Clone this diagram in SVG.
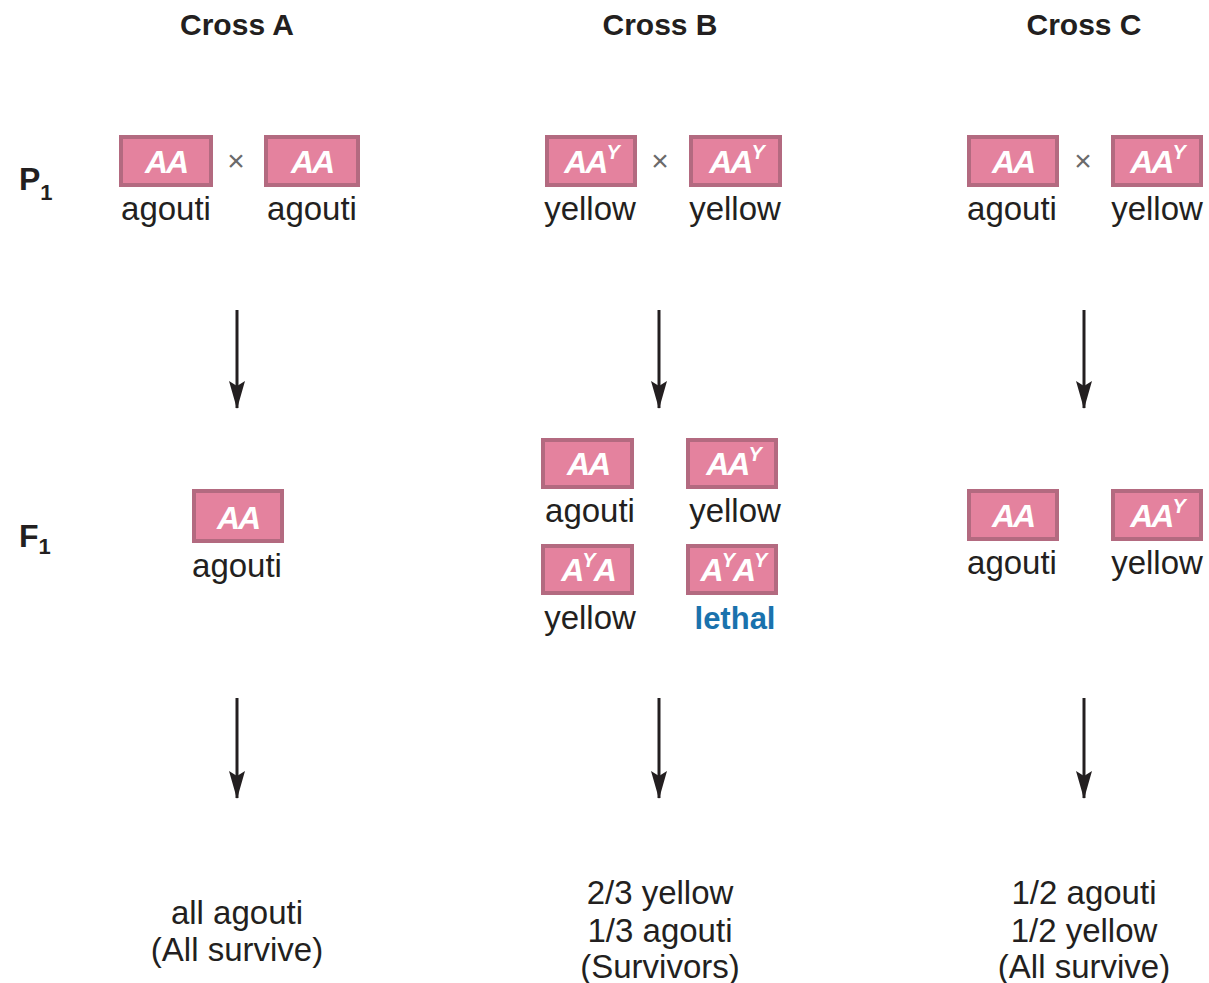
<svg xmlns="http://www.w3.org/2000/svg" width="1209" height="983" viewBox="0 0 1209 983">
  <style>
    text { font-family: "Liberation Sans", Arial, sans-serif; fill: #231f20; }
    .title { font-size: 30px; font-weight: bold; text-anchor: middle; }
    .gen { font-size: 32px; font-weight: bold; }
    .sub { font-size: 22px; font-weight: bold; }
    .box rect { fill: #e4829e; stroke: #b36a80; stroke-width: 4; }
    .geno { font-size: 32px; font-weight: bold; font-style: italic; fill: #ffffff; text-anchor: middle; letter-spacing: -2px; }
    .sup { font-size: 20px; }
    .lbl { font-size: 33px; text-anchor: middle; }
    .lethal { font-size: 31px; font-weight: bold; fill: #1a72ad; text-anchor: middle; }
    .times { font-size: 30px; fill: #6a6a6a; text-anchor: middle; }
    .res { font-size: 33px; text-anchor: middle; }
    .conn line { stroke: #231f20; stroke-width: 3; marker-end: url(#head); }
  </style>
  <defs>
    <!-- slim arrowhead, drawn along +x and turned to follow the line -->
    <marker id="head" viewBox="0 0 28 16" refX="27" refY="8" markerWidth="28" markerHeight="16" markerUnits="userSpaceOnUse" orient="auto">
      <path d="M0,0 L28,8 L0,16 L5,8 Z" fill="#231f20"/>
    </marker>
  </defs>
  <rect width="1209" height="983" fill="#ffffff"/>

  <!-- column titles -->
  <g id="titles">
    <text class="title" x="237" y="35">Cross A</text>
    <text class="title" x="660" y="35">Cross B</text>
    <text class="title" x="1084" y="35">Cross C</text>
  </g>

  <!-- generation labels -->
  <g id="gen-labels">
    <text class="gen" x="19" y="190">P<tspan class="sub" dy="10">1</tspan></text>
    <text class="gen" x="19" y="547">F<tspan class="sub" dy="7">1</tspan></text>
  </g>

  <!-- Cross A -->
  <g id="a-p1-left" class="box">
    <rect x="121" y="137" width="90" height="48"/>
    <text class="geno" x="166" y="173">AA</text>
    <text class="lbl" x="166" y="220">agouti</text>
  </g>
  <text class="times" x="236" y="171">×</text>
  <g id="a-p1-right" class="box">
    <rect x="266" y="137" width="92" height="48"/>
    <text class="geno" x="312" y="173">AA</text>
    <text class="lbl" x="312" y="220">agouti</text>
  </g>
  <g id="a-f1" class="box">
    <rect x="194" y="491" width="88" height="50"/>
    <text class="geno" x="238" y="529">AA</text>
    <text class="lbl" x="237" y="577">agouti</text>
  </g>
  <g id="a-result">
    <text class="res" x="237" y="924">all agouti</text>
    <text class="res" x="237" y="961">(All survive)</text>
  </g>

  <!-- Cross B -->
  <g id="b-p1-left" class="box">
    <rect x="547" y="137" width="88" height="48"/>
    <text class="geno" x="591" y="173">AA<tspan class="sup" dy="-14">Y</tspan></text>
    <text class="lbl" x="590" y="220">yellow</text>
  </g>
  <text class="times" x="660" y="171">×</text>
  <g id="b-p1-right" class="box">
    <rect x="691" y="137" width="89" height="48"/>
    <text class="geno" x="736" y="173">AA<tspan class="sup" dy="-14">Y</tspan></text>
    <text class="lbl" x="735" y="220">yellow</text>
  </g>
  <g id="b-f1-aa" class="box">
    <rect x="543" y="440" width="89" height="47"/>
    <text class="geno" x="588" y="475">AA</text>
    <text class="lbl" x="590" y="522">agouti</text>
  </g>
  <g id="b-f1-aay" class="box">
    <rect x="688" y="440" width="88" height="47"/>
    <text class="geno" x="733" y="475">AA<tspan class="sup" dy="-14">Y</tspan></text>
    <text class="lbl" x="735" y="522">yellow</text>
  </g>
  <g id="b-f1-aya" class="box">
    <rect x="543" y="546" width="89" height="47"/>
    <text class="geno" x="588" y="581">A<tspan class="sup" dy="-14">Y</tspan><tspan dy="14">A</tspan></text>
    <text class="lbl" x="590" y="629">yellow</text>
  </g>
  <g id="b-f1-ayay" class="box">
    <rect x="688" y="546" width="88" height="47"/>
    <text class="geno" x="733" y="581">A<tspan class="sup" dy="-14">Y</tspan><tspan dy="14">A</tspan><tspan class="sup" dy="-14">Y</tspan></text>
    <text class="lethal" x="735" y="629">lethal</text>
  </g>
  <g id="b-result">
    <text class="res" x="660" y="904">2/3 yellow</text>
    <text class="res" x="660" y="942">1/3 agouti</text>
    <text class="res" x="660" y="978">(Survivors)</text>
  </g>

  <!-- Cross C -->
  <g id="c-p1-left" class="box">
    <rect x="969" y="137" width="88" height="48"/>
    <text class="geno" x="1013" y="173">AA</text>
    <text class="lbl" x="1012" y="220">agouti</text>
  </g>
  <text class="times" x="1083" y="171">×</text>
  <g id="c-p1-right" class="box">
    <rect x="1113" y="137" width="88" height="48"/>
    <text class="geno" x="1157" y="173">AA<tspan class="sup" dy="-14">Y</tspan></text>
    <text class="lbl" x="1157" y="220">yellow</text>
  </g>
  <g id="c-f1-aa" class="box">
    <rect x="969" y="491" width="88" height="48"/>
    <text class="geno" x="1013" y="527">AA</text>
    <text class="lbl" x="1012" y="574">agouti</text>
  </g>
  <g id="c-f1-aay" class="box">
    <rect x="1113" y="491" width="88" height="48"/>
    <text class="geno" x="1157" y="527">AA<tspan class="sup" dy="-14">Y</tspan></text>
    <text class="lbl" x="1157" y="574">yellow</text>
  </g>
  <g id="c-result">
    <text class="res" x="1084" y="904">1/2 agouti</text>
    <text class="res" x="1084" y="942">1/2 yellow</text>
    <text class="res" x="1084" y="978">(All survive)</text>
  </g>

  <!-- connectors -->
  <g id="connectors" class="conn">
    <line x1="237" y1="310" x2="237" y2="408"/>
    <line x1="659" y1="310" x2="659" y2="408"/>
    <line x1="1084" y1="310" x2="1084" y2="408"/>
    <line x1="237" y1="698" x2="237" y2="798"/>
    <line x1="659" y1="698" x2="659" y2="798"/>
    <line x1="1084" y1="698" x2="1084" y2="798"/>
  </g>
</svg>
